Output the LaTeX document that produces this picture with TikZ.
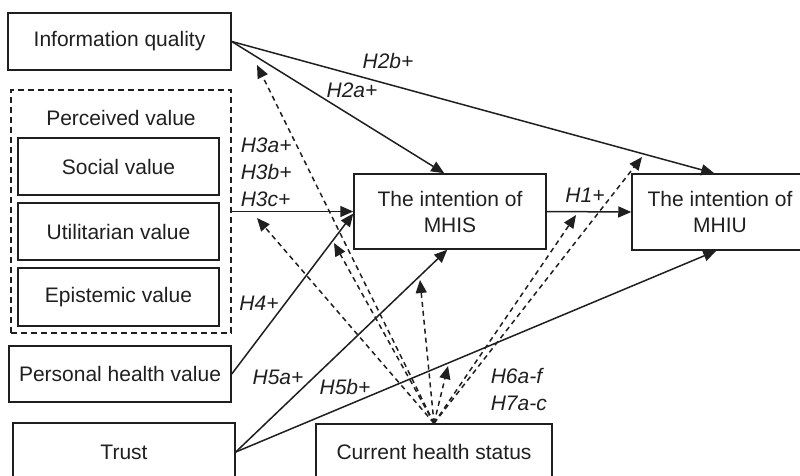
\documentclass[tikz,border=0pt]{standalone}
\usepackage{fontspec}
\setmainfont{Liberation Sans}
\usetikzlibrary{arrows.meta,calc}
\begin{document}
\begin{tikzpicture}[x=1pt,y=-1pt, line width=1.5pt, color={black!88},
  box/.style={draw, rectangle, inner sep=0pt, align=center, font=\fontsize{21}{26}\selectfont},
  txt/.style={inner sep=0pt, font=\fontsize{21}{26}\selectfont},
  lbl/.style={inner sep=0pt, align=left, font=\fontsize{21}{27}\selectfont\itshape},
  arr/.style={-{Triangle[length=13pt,width=11pt]}},
  darr/.style={arr, dash pattern=on 5pt off 4pt}]
\useasboundingbox (0,0) rectangle (800,475);
\clip (0,0) rectangle (800,475);
% boxes
\node[box, minimum width=223pt, minimum height=57pt] (iq) at (119.5,41.5) {Information quality};
\node[box, dash pattern=on 6pt off 4pt, minimum width=220pt, minimum height=243pt] (pv) at (121,211.5) {};
\node[txt] (pvt) at (121,118) {Perceived value};
\node[box, minimum width=201pt, minimum height=57pt] (soc) at (118.5,166.5) {Social value};
\node[box, minimum width=201pt, minimum height=57pt] (util) at (118.5,231.5) {Utilitarian value};
\node[box, minimum width=201pt, minimum height=58pt] (epi) at (118.5,297) {Epistemic value};
\node[box, minimum width=222pt, minimum height=56pt] (phv) at (120,374) {Personal health value};
\node[box, minimum width=222pt, minimum height=58pt] (trust) at (124,452) {Trust};
\node[box, minimum width=236pt, minimum height=56pt] (chs) at (434,452) {Current health status};
\node[box, minimum width=192pt, minimum height=75pt] (mhis) at (450,211.5) {The intention of\\MHIS};
\node[box, minimum width=176pt, minimum height=76pt] (mhiu) at (720,212) {The intention of\\MHIU};
% solid arrows
\draw[arr] (iq.east) -- ([xshift=91pt]mhis.north west);
\draw[arr] (iq.east) -- ([xshift=83pt]mhiu.north west);
\draw[arr] (pv.east) -- (mhis.west);
\draw[arr] (phv.east) -- ([yshift=-2pt]mhis.west);
\draw[arr] (trust.east) -- ([xshift=94pt]mhis.south west);
\draw[arr] (trust.east) -- ([xshift=85pt]mhiu.south west);
\draw[arr] (mhis.east) -- (mhiu.west);
% moderation targets
\coordinate (m1) at (257,65);
\coordinate (m2) at (257,218);
\coordinate (m3) at (334,243);
\coordinate (m4) at (420,280);
\coordinate (m5) at (448,366);
\coordinate (m6) at (576,215);
\coordinate (m7) at (642,157);
\foreach \t in {m1,m2,m3,m4,m5,m6,m7} \draw[darr] (chs.north) -- (\t);
% labels
\node[lbl] (l2b) at (388,61) {H2b+};
\node[lbl] (l2a) at (352,90) {H2a+};
\node[lbl, anchor=west] (l3) at (240,172) {H3a+\\H3b+\\H3c+};
\node[lbl] (l4) at (259,303) {H4+};
\node[lbl] (l5a) at (278,377) {H5a+};
\node[lbl] (l5b) at (345,387) {H5b+};
\node[lbl, anchor=west] (l67) at (490,389) {H6a-f\\H7a-c};
\node[lbl] (l1) at (585,195) {H1+};
\end{tikzpicture}
\end{document}
